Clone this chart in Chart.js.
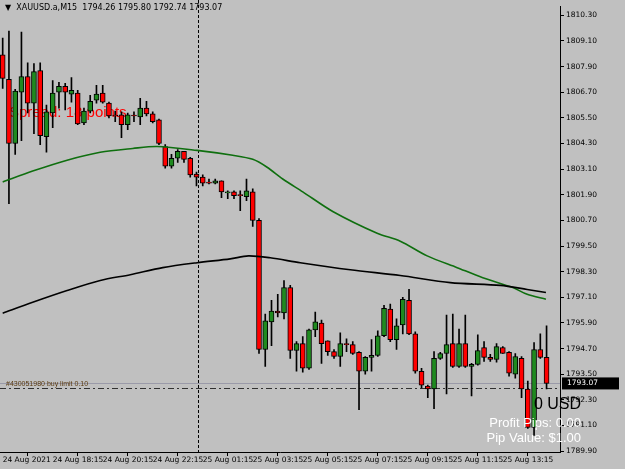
<!DOCTYPE html>
<html><head><meta charset="utf-8">
<script src="https://cdn.jsdelivr.net/npm/chart.js@4/dist/chart.umd.min.js"></script>
<style>html,body{margin:0;padding:0;background:#c0c0c0;}#w{width:625px;height:469px;}</style>
</head><body><div id="w"><canvas id="c"></canvas></div>
<script>
const opens=[1808.45,1807.30,1804.30,1806.70,1807.44,1806.19,1807.72,1804.62,1805.73,1806.70,1806.98,1806.61,1806.66,1805.27,1805.82,1806.33,1806.66,1806.19,1805.59,1805.64,1805.18,1805.59,1805.55,1805.96,1805.69,1805.41,1804.16,1803.24,1803.61,1803.93,1803.61,1802.87,1802.73,1802.45,1802.45,1802.55,1801.99,1802.04,1801.86,1801.81,1802.04,1800.70,1794.66,1795.95,1796.46,1796.37,1797.56,1794.61,1794.93,1793.78,1795.58,1795.90,1795.07,1794.56,1794.33,1794.89,1794.89,1794.52,1793.64,1794.29,1794.38,1795.30,1796.55,1795.12,1795.81,1796.96,1795.39,1793.64,1792.95,1792.81,1794.24,1794.47,1794.93,1793.87,1794.93,1793.87,1793.96,1794.75,1794.29,1794.19,1794.75,1794.52,1793.50,1794.24,1792.81,1791.01,1794.66,1794.29];
const highs=[1809.24,1809.56,1806.84,1809.52,1808.08,1808.04,1808.08,1806.10,1807.25,1807.16,1807.12,1807.39,1806.79,1805.96,1806.56,1807.02,1807.02,1806.24,1805.82,1805.78,1805.73,1805.78,1806.42,1806.28,1805.78,1805.45,1804.25,1803.79,1804.02,1803.93,1803.65,1802.96,1802.83,1802.64,1802.64,1802.55,1802.09,1802.09,1802.09,1802.64,1802.18,1800.79,1796.32,1796.96,1797.24,1797.89,1797.66,1795.03,1795.26,1795.62,1796.41,1796.04,1795.07,1794.66,1795.44,1795.16,1795.03,1794.56,1794.33,1795.12,1795.53,1796.73,1796.78,1796.09,1797.10,1797.47,1795.49,1793.78,1792.99,1794.56,1794.52,1796.27,1796.32,1795.62,1796.27,1794.01,1795.35,1795.03,1794.43,1794.93,1794.79,1794.56,1794.47,1794.33,1793.18,1794.98,1795.39,1795.77];
const lows=[1806.88,1801.49,1803.79,1804.44,1805.73,1804.76,1804.25,1803.89,1805.04,1805.96,1805.87,1806.24,1805.18,1805.18,1805.73,1806.19,1806.19,1805.50,1805.32,1804.58,1804.95,1805.32,1805.18,1805.59,1805.27,1804.25,1803.15,1803.15,1803.42,1803.42,1802.73,1802.32,1802.32,1802.41,1802.41,1801.76,1801.72,1801.72,1801.16,1801.62,1800.42,1794.47,1793.87,1794.84,1796.18,1796.09,1794.24,1793.64,1793.60,1793.73,1795.26,1794.01,1794.38,1794.24,1793.87,1794.56,1794.43,1791.84,1793.50,1793.64,1794.33,1795.26,1795.03,1794.66,1795.39,1795.35,1793.55,1792.86,1792.40,1791.89,1794.19,1792.58,1793.82,1793.82,1793.82,1792.49,1793.92,1794.10,1794.10,1794.06,1794.47,1793.41,1793.32,1792.40,1790.96,1790.64,1794.24,1792.81];
const closes=[1807.35,1804.30,1806.75,1807.44,1806.19,1807.67,1804.67,1805.78,1806.66,1806.98,1806.70,1806.79,1805.22,1805.82,1806.28,1806.61,1806.24,1805.59,1805.59,1805.18,1805.64,1805.59,1805.96,1805.69,1805.32,1804.30,1803.24,1803.61,1803.93,1803.56,1802.83,1802.73,1802.45,1802.45,1802.55,1802.04,1802.04,1801.86,1801.86,1802.09,1800.70,1794.66,1796.00,1796.46,1796.37,1797.56,1794.61,1794.93,1793.78,1795.58,1795.95,1794.93,1794.56,1794.33,1794.93,1794.89,1794.47,1793.64,1794.29,1794.38,1795.30,1796.59,1795.12,1795.77,1797.01,1795.39,1793.64,1792.99,1792.81,1794.24,1794.47,1794.89,1793.87,1794.93,1793.87,1793.96,1794.61,1794.29,1794.19,1794.79,1794.47,1793.55,1794.33,1792.81,1791.01,1794.66,1794.29,1793.07];
const maFastX=[0,4.8,10.3,15.6,20.8,24.7,31.1,36.8,40,42.3,44.8,48,52.8,59.9,63.6,67.9,72.7,76.8,81.6,83.9,86.9];
const maFastY=[1802.50,1803.01,1803.52,1803.89,1804.07,1804.16,1803.98,1803.75,1803.56,1803.19,1802.64,1802.04,1801.12,1800.10,1799.73,1799.04,1798.49,1798.02,1797.56,1797.24,1797.01];
const maSlowX=[0,4.8,10.3,15.6,20.4,25.6,31.1,36.4,39.3,42.8,47.6,55.6,63.6,71.6,79.6,83.9,86.9];
const maSlowY=[1796.36,1796.87,1797.42,1797.89,1798.16,1798.49,1798.72,1798.90,1799.04,1798.95,1798.72,1798.39,1798.12,1797.79,1797.66,1797.47,1797.33];
const priceTicks=[1810.30,1809.10,1807.90,1806.70,1805.50,1804.30,1803.10,1801.90,1800.70,1799.50,1798.30,1797.10,1795.90,1794.70,1793.50,1792.30,1791.10,1789.90];
const dateTickIdx=[0,8,16,24,32,40,48,56,64,72,80];
const dateLabels=["24 Aug 2021","24 Aug 18:15","24 Aug 20:15","24 Aug 22:15","25 Aug 01:15","25 Aug 03:15","25 Aug 05:15","25 Aug 07:15","25 Aug 09:15","25 Aug 11:15","25 Aug 13:15"];
const lastPrice=1793.07, orderPrice=1792.86, vlineIdx=31.2;

const idx=opens.map((_,i)=>i);
const up=idx.map(i=>closes[i]>opens[i]);
const F='"Liberation Sans", Arial, sans-serif';
const FT='"DejaVu Sans", sans-serif';

const overlay={id:'ov',
 beforeDatasetsDraw(ch){const c=ch.ctx,ya=ch.scales.y,xa=ch.scales.x;
  c.save();c.font='15px '+F;c.fillStyle='#ff0000';c.textBaseline='middle';c.fillText('Spread: 18 points',9,113);
  c.strokeStyle='#9a9aa8';c.lineWidth=1;let yb=Math.round(ya.getPixelForValue(lastPrice))+0.5;
  c.beginPath();c.moveTo(xa.left,yb);c.lineTo(xa.right,yb);c.stroke();
  let yo=Math.round(ya.getPixelForValue(orderPrice))+0.5;c.strokeStyle='#303030';c.setLineDash([6,3,2,3]);
  c.beginPath();c.moveTo(xa.left,yo);c.lineTo(xa.right,yo);c.stroke();
  c.font='7px '+F;c.fillStyle='#5a3a10';c.textBaseline='bottom';c.fillText('#430051980 buy limit 0.10',6,yo-1);
  let xv=Math.round(xa.getPixelForValue(vlineIdx))+0.5;c.setLineDash([3,2]);c.strokeStyle='#000';
  c.beginPath();c.moveTo(xv,0);c.lineTo(xv,ya.bottom);c.stroke();c.restore();},
 afterDraw(ch){const c=ch.ctx,ya=ch.scales.y,xa=ch.scales.x;c.save();
  c.font='8px '+FT;c.fillStyle='#000';c.textBaseline='middle';c.fillText('▼  XAUUSD.a,M15  1794.26 1795.80 1792.74 1793.07',5,8);
  c.textAlign='right';c.font='16px '+F;c.fillText('0 USD',581,405);
  c.font='13px '+F;c.fillStyle='#ffffff';c.fillText('Profit Pips: 0.00',581,423);c.fillText('Pip Value: $1.00',581,438);
  let yb=ya.getPixelForValue(lastPrice);c.fillStyle='#000';c.fillRect(xa.right+2,yb-6,57,12);
  c.fillStyle='#fff';c.textAlign='left';c.font='7.5px '+FT;c.fillText(lastPrice.toFixed(2),xa.right+7,yb);
  c.restore();}
};

new Chart(document.getElementById('c'),{
 type:'bar',
 data:{datasets:[
  {type:'bar',order:3,data:idx.map(i=>({x:i,y:[lows[i],highs[i]]})),backgroundColor:'#000',barThickness:1,grouped:false},
  {type:'bar',order:2,data:idx.map(i=>({x:i,y:[opens[i],closes[i]]})),backgroundColor:idx.map(i=>up[i]?'#1f8a1f':'#ff0000'),borderColor:'#000',borderWidth:1,borderSkipped:false,barThickness:5,grouped:false,minBarLength:1},
  {type:'line',order:1,data:maFastX.map((x,i)=>({x,y:maFastY[i]})),borderColor:'#0f6f0f',borderWidth:1.6,pointRadius:0,tension:0.3},
  {type:'line',order:0,data:maSlowX.map((x,i)=>({x,y:maSlowY[i]})),borderColor:'#000',borderWidth:1.6,pointRadius:0,tension:0.3}
 ]},
 options:{responsive:true,maintainAspectRatio:false,animation:false,events:[],
  layout:{padding:0},
  plugins:{legend:{display:false},tooltip:{enabled:false}},
  scales:{
   x:{type:'linear',min:-0.43,max:89.15,offset:false,grid:{display:true,drawOnChartArea:false,drawTicks:true,tickLength:4,color:'#000'},border:{color:'#000'},
      afterBuildTicks(s){s.ticks=dateTickIdx.map(v=>({value:v}));},
      afterFit(s){s.height=17;},
      ticks:{autoSkip:false,maxRotation:0,align:'start',padding:0,color:'#000',font:{size:7.5,family:FT},callback:(v)=>{const k=dateTickIdx.indexOf(v);return k>=0?dateLabels[k]:'';}}},
   y:{position:'right',min:1789.86,max:1810.715,grid:{display:true,drawOnChartArea:false,tickLength:4,color:'#000'},border:{color:'#000'},
      afterBuildTicks(s){s.ticks=priceTicks.map(v=>({value:v}));},
      afterFit(s){s.width=65;},
      ticks:{autoSkip:false,padding:2,color:'#000',font:{size:7.5,family:FT},callback:v=>v.toFixed(2)}}
  }},
 plugins:[overlay]
});
</script></body></html>
